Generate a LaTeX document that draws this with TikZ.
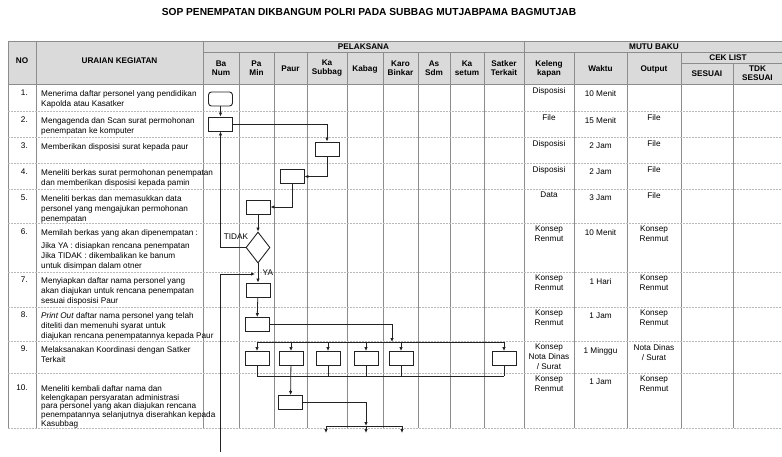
\documentclass[tikz,border=0pt]{standalone}
\usepackage{fontspec}
\setmainfont{Liberation Sans}
\usetikzlibrary{shapes.geometric,arrows.meta}

\definecolor{garisabu}{RGB}{140,140,140}
\definecolor{garistipis}{RGB}{185,185,185}
\definecolor{kepalaabu}{RGB}{218,218,218}
\definecolor{alurhitam}{RGB}{35,35,35}

\begin{document}
\begin{tikzpicture}[x=1pt,y=-1pt,
  every node/.style={font=\fontsize{8.2}{9.5}\selectfont},
  gridv/.style={draw=garisabu,line width=0.7pt},
  gridh/.style={draw=garistipis,line width=0.7pt,dash pattern=on 2pt off 1pt},
  kepala/.style={font=\bfseries\fontsize{8.2}{9}\selectfont,align=center},
  uraian/.style={anchor=north west,align=left,inner sep=0pt,font=\fontsize{8.2}{10}\selectfont},
  nomor/.style={anchor=north east,inner sep=0pt},
  mutu/.style={anchor=north,align=center,inner sep=0pt,font=\fontsize{8.2}{10}\selectfont},
  proses/.style={draw=alurhitam,line width=0.9pt,minimum width=24pt,minimum height=14pt,inner sep=0pt},
  mulai/.style={proses,rounded corners=3pt},
  keputusan/.style={draw=alurhitam,line width=0.9pt,diamond,minimum width=24pt,minimum height=31pt,inner sep=0pt},
  garis/.style={draw=alurhitam,line width=0.8pt},
  alur/.style={garis,-{Latex[length=4pt,width=3.5pt]}}]
\useasboundingbox (0,0) rectangle (782,456);

% judul
\node[font=\bfseries\fontsize{10.2}{12}\selectfont] (judul) at (369,12)
  {SOP PENEMPATAN DIKBANGUM POLRI PADA SUBBAG MUTJABPAMA BAGMUTJAB};

% tabel
\fill[kepalaabu] (8,41) rectangle (782,84);
\draw[gridv] (8,41) -- (782,41);
\draw[gridv] (203,52) -- (782,52);
\draw[gridv] (681,63) -- (782,63);
\draw[gridv] (8,84) -- (782,84);
\foreach \x in {8,36,203,524}
  \draw[gridv] (\x,41) -- (\x,428);
\foreach \x in {239,274,307,347,383,418,450,484,574,627,681}
  \draw[gridv] (\x,52) -- (\x,428);
\draw[gridv] (733,63) -- (733,428);
\foreach \y in {111,137,163,189,223,272,307,341,373,428}
  \draw[gridh] (8,\y) -- (782,\y);

% kepala tabel
\node[kepala] (hno) at (22,61) {NO};
\node[kepala] (hur) at (119.5,61) {URAIAN KEGIATAN};
\node[kepala] (hpel) at (363.5,47) {PELAKSANA};
\node[kepala] (hmutu) at (654,47) {MUTU BAKU};
\node[kepala] (hcek) at (728,58) {CEK LIST};
\node[kepala] (hbanum) at (221,68.5) {Ba\\Num};
\node[kepala] (hpamin) at (256.5,68.5) {Pa\\Min};
\node[kepala] (hpaur) at (290.5,69) {Paur};
\node[kepala] (hkasub) at (327,68.5) {Ka\\Subbag};
\node[kepala] (hkabag) at (365,69) {Kabag};
\node[kepala] (hkaro) at (400.5,68.5) {Karo\\Binkar};
\node[kepala] (hassdm) at (434,68.5) {As\\Sdm};
\node[kepala] (hsetum) at (467,68.5) {Ka\\setum};
\node[kepala] (hsatker) at (504,68.5) {Satker\\Terkait};
\node[kepala] (hkel) at (549,68.5) {Keleng\\kapan};
\node[kepala] (hwaktu) at (600.5,69) {Waktu};
\node[kepala] (houtput) at (654,69) {Output};
\node[kepala] (hsesuai) at (707,73.5) {SESUAI};
\node[kepala] (htdk) at (757.5,73.5) {TDK\\SESUAI};

% nomor dan uraian
\node[nomor] (no1) at (28,90) {1.};
\node[uraian] (ur1) at (41,90) {Menerima daftar personel yang pendidikan\\Kapolda atau Kasatker};
\node[nomor] (no2) at (28,117) {2.};
\node[uraian] (ur2) at (41,117) {Mengagenda dan Scan surat permohonan\\penempatan ke komputer};
\node[nomor] (no3) at (28,143) {3.};
\node[uraian] (ur3) at (41,143) {Memberikan disposisi surat kepada paur};
\node[nomor] (no4) at (28,169) {4.};
\node[uraian] (ur4) at (41,169) {Meneliti berkas surat permohonan penempatan\\dan memberikan disposisi kepada pamin};
\node[nomor] (no5) at (28,195) {5.};
\node[uraian] (ur5) at (41,195) {Meneliti berkas dan memasukkan data\\personel yang mengajukan permohonan\\penempatan};
\node[nomor] (no6) at (28,229) {6.};
\node[uraian] (ur6) at (41,229) {Memilah berkas yang akan dipenempatan :\\[3pt]Jika YA : disiapkan rencana penempatan\\Jika TIDAK : dikembalikan ke banum\\untuk disimpan dalam otner};
\node[nomor] (no7) at (28,277) {7.};
\node[uraian] (ur7) at (41,277) {Menyiapkan daftar nama personel yang\\akan diajukan untuk rencana penempatan\\sesuai disposisi Paur};
\node[nomor] (no8) at (28,312) {8.};
\node[uraian] (ur8) at (41,312) {\textit{Print Out} daftar nama personel yang telah\\diteliti dan memenuhi syarat untuk\\diajukan rencana penempatannya kepada Paur};
\node[nomor] (no9) at (28,346) {9.};
\node[uraian] (ur9) at (41,346) {Melaksanakan Koordinasi dengan Satker\\Terkait};
\node[nomor] (no10) at (28,385) {10.};
\node[uraian,font=\fontsize{8.2}{8.9}\selectfont] (ur10) at (41,385) {Meneliti kembali daftar nama dan\\kelengkapan persyaratan administrasi\\para personel yang akan diajukan rencana\\penempatannya selanjutnya diserahkan kepada\\Kasubbag};

% mutu baku
\node[mutu] (kel1) at (549,87) {Disposisi};
\node[mutu] (wak1) at (600.5,90) {10 Menit};
\node[mutu] (kel2) at (549,114) {File};
\node[mutu] (wak2) at (600.5,117) {15 Menit};
\node[mutu] (out2) at (654,114) {File};
\node[mutu] (kel3) at (549,140) {Disposisi};
\node[mutu] (wak3) at (600.5,143) {2 Jam};
\node[mutu] (out3) at (654,140) {File};
\node[mutu] (kel4) at (549,166) {Disposisi};
\node[mutu] (wak4) at (600.5,169) {2 Jam};
\node[mutu] (out4) at (654,166) {File};
\node[mutu] (kel5) at (549,192) {Data};
\node[mutu] (wak5) at (600.5,195) {3 Jam};
\node[mutu] (out5) at (654,192) {File};
\node[mutu] (kel6) at (549,226) {Konsep\\Renmut};
\node[mutu] (wak6) at (600.5,229) {10 Menit};
\node[mutu] (out6) at (654,226) {Konsep\\Renmut};
\node[mutu] (kel7) at (549,275) {Konsep\\Renmut};
\node[mutu] (wak7) at (600.5,278) {1 Hari};
\node[mutu] (out7) at (654,275) {Konsep\\Renmut};
\node[mutu] (kel8) at (549,310) {Konsep\\Renmut};
\node[mutu] (wak8) at (600.5,313) {1 Jam};
\node[mutu] (out8) at (654,310) {Konsep\\Renmut};
\node[mutu] (kel9) at (549,344) {Konsep\\Nota Dinas\\/ Surat};
\node[mutu] (wak9) at (600.5,347) {1 Minggu};
\node[mutu] (out9) at (654,344) {Nota Dinas\\/ Surat};
\node[mutu] (kel10) at (549,376) {Konsep\\Renmut};
\node[mutu] (wak10) at (600.5,379) {1 Jam};
\node[mutu] (out10) at (654,376) {Konsep\\Renmut};

% bagan alur
\node[mulai] (r1) at (220.5,99) {};
\node[proses] (r2) at (220.5,124) {};
\node[proses] (r3) at (327,149) {};
\node[proses] (r4) at (292,176.5) {};
\node[proses] (r5) at (258,207) {};
\node[keputusan] (r6) at (258,247.5) {};
\node[proses] (r7) at (258,290) {};
\node[proses] (r8) at (257,324.5) {};
\node[proses] (r9a) at (257,358.5) {};
\node[proses] (r9b) at (291,358.5) {};
\node[proses] (r9c) at (328,358.5) {};
\node[proses] (r9d) at (366,358.5) {};
\node[proses] (r9e) at (401,358.5) {};
\node[proses] (r9f) at (504,358.5) {};
\node[proses] (r10) at (290.5,402.5) {};
\node (tidak) at (236,237) {TIDAK};

\draw[alur] (r1) -- (r2);
\draw[alur] (r2) -| (r3);
\draw[alur] (r3) |- (r4);
\draw[alur] (r4) |- (r5);
\draw[alur] (r5) -- (r6);
\draw[alur] (r6) -| (r2);
\draw[alur] (r6) -- node[right=1pt] (ya) {YA} (r7);
\coordinate (bawah) at (220.5,452);
\coordinate (masuk) at (255,274);
\draw[alur] (bawah) |- (masuk);
\draw[alur] (r7) -- (r8);

\coordinate (bagi) at (392,342);
\draw[alur] (r8) -| (bagi);
\draw[garis] (r9a.north |- bagi) -- (r9f.north |- bagi);
\foreach \k in {r9a,r9b,r9c,r9d,r9e,r9f}
  \draw[alur] (\k.north |- bagi) -- (\k);
\coordinate (gabung) at (0,376);
\draw[garis] (r9a.south |- gabung) -- (r9f.south |- gabung);
\foreach \k in {r9a,r9c,r9d,r9e,r9f}
  \draw[garis] (\k) -- (\k.south |- gabung);
\draw[alur] (r9b) -- (r10);

\coordinate (pecah) at (366,426);
\draw[alur] (r10) -| (pecah);
\coordinate (akhir1) at (326,433);
\coordinate (akhir2) at (366,433);
\coordinate (akhir3) at (402,433);
\draw[garis] (akhir1 |- pecah) -- (akhir3 |- pecah);
\foreach \k in {akhir1,akhir2,akhir3}
  \draw[alur] (\k |- pecah) -- (\k);
\end{tikzpicture}
\end{document}
